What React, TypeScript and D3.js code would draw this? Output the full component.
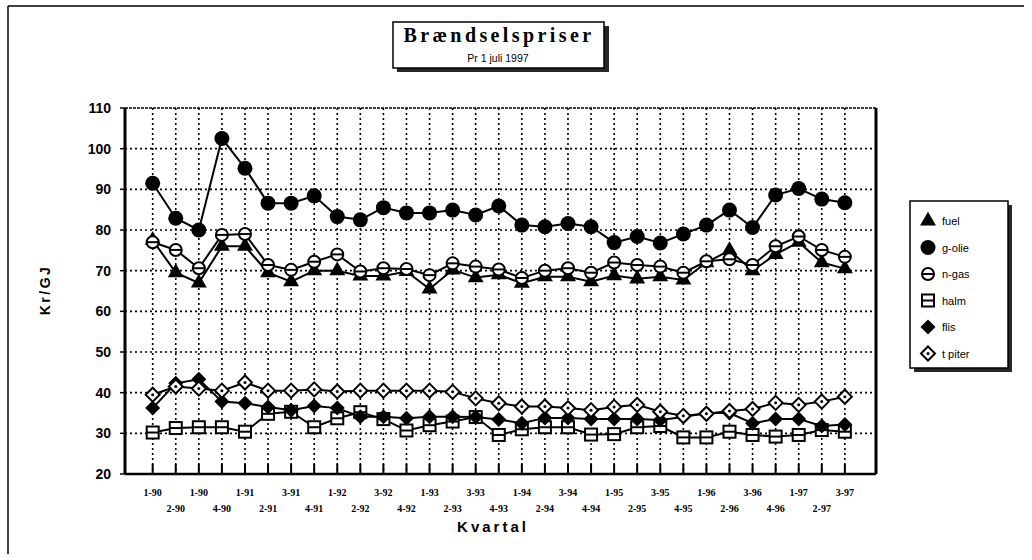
import * as d3 from "d3";

// quarter labels as printed under the axis (upper row = even index, lower row = odd)
const kvartaler = [
  "1-90", "2-90", "1-90", "4-90", "1-91", "2-91", "3-91", "4-91",
  "1-92", "2-92", "3-92", "4-92", "1-93", "2-93", "3-93", "4-93",
  "1-94", "2-94", "3-94", "4-94", "1-95", "2-95", "3-95", "4-95",
  "1-96", "2-96", "3-96", "4-96", "1-97", "2-97", "3-97",
];

const fuel = [77.5, 69.5, 67, 76, 76, 69.5, 67.3, 70, 70, 68.7, 68.7, 69.8, 65.5, 70.2, 68.3, 69,
  66.9, 68.5, 68.5, 67.3, 68.8, 68, 68.5, 67.7, 72, 75, 70, 74, 77, 72, 70.5];
const golie = [91.5, 82.9, 80, 102.5, 95.2, 86.6, 86.6, 88.4, 83.3, 82.5, 85.5, 84.2, 84.2, 84.9, 83.7, 85.9,
  81.2, 80.8, 81.6, 80.8, 76.9, 78.4, 76.8, 79, 81.2, 84.9, 80.6, 88.6, 90.2, 87.6, 86.7];
const ngas = [77, 75.1, 70.6, 78.8, 79, 71.4, 70.2, 72.2, 74, 69.8, 70.6, 70.4, 68.9, 71.8, 71, 70.3,
  68.2, 70, 70.6, 69.5, 72, 71.4, 71, 69.5, 72.3, 72.8, 71.4, 76, 78.4, 75.1, 73.4];
const halm = [30.2, 31.3, 31.5, 31.5, 30.4, 34.8, 35.3, 31.5, 33.7, 35.2, 33.5, 30.7, 32, 32.9, 34, 29.6,
  31, 31.5, 31.5, 29.7, 29.8, 31.5, 31.8, 29, 29, 30.4, 29.6, 29.2, 29.6, 30.8, 30.4];
const flis = [36.2, 42.3, 43.3, 37.8, 37.4, 36.5, 35.7, 36.7, 36.2, 34.1, 34.1, 33.7, 34.1, 34.1, 34, 33.4,
  32.5, 33.8, 33.8, 33.5, 33.5, 33.5, 33.3, 34, 35, 35, 32.5, 33.5, 33.5, 31.8, 32.2];
const tpiter = [39.5, 41.5, 41, 40.5, 42.5, 40.5, 40.5, 40.8, 40.3, 40.5, 40.5, 40.5, 40.5, 40.2, 38.6, 37.4,
  36.6, 36.6, 36.2, 35.7, 36.5, 37, 35.3, 34.3, 34.8, 35.5, 36, 37.5, 37, 37.8, 39];

const yTicks = [20, 30, 40, 50, 60, 70, 80, 90, 100, 110];

const serier = [
  { navn: "fuel", data: fuel, marker: "triangle" },
  { navn: "g-olie", data: golie, marker: "dot" },
  { navn: "n-gas", data: ngas, marker: "ocircle" },
  { navn: "halm", data: halm, marker: "osquare" },
  { navn: "flis", data: flis, marker: "diamond" },
  { navn: "t piter", data: tpiter, marker: "odiamond" },
];

const W = 1032, H = 560;
const left = 125, right = 876, top = 108, bottom = 474;

const x = d3.scaleLinear().domain([-1.2, 31.35]).range([left, right]);
const y = d3.scaleLinear().domain([20, 110]).range([bottom, top]);

function Marker({ type, cx, cy }: { type: string; cx: number; cy: number }) {
  const t = `translate(${cx},${cy})`;
  if (type === "triangle") {
    return <path transform={t} d={d3.symbol(d3.symbolTriangle, 110)()!} fill="#000" />;
  }
  if (type === "dot") {
    return <circle cx={cx} cy={cy} r={7.5} fill="#000" />;
  }
  if (type === "ocircle") {
    return (
      <g transform={t}>
        <circle r={6} fill="#fff" stroke="#000" strokeWidth={2} />
        <line x1={-6} x2={6} y1={0} y2={0} stroke="#000" strokeWidth={2} />
      </g>
    );
  }
  if (type === "osquare") {
    return (
      <g transform={t}>
        <rect x={-6} y={-6} width={12} height={12} fill="#fff" stroke="#000" strokeWidth={2} />
        <line x1={-6} x2={6} y1={0} y2={0} stroke="#000" strokeWidth={2} />
      </g>
    );
  }
  if (type === "diamond") {
    return <path transform={t} d="M0,-7.5L7.5,0L0,7.5L-7.5,0Z" fill="#000" />;
  }
  return (
    <g transform={t}>
      <path d="M0,-7L7,0L0,7L-7,0Z" fill="#fff" stroke="#000" strokeWidth={2} />
      <circle r={1.5} fill="#000" />
    </g>
  );
}

export default function App() {
  const line = d3.line<number>().x((_, i) => x(i)).y((d) => y(d));
  const idx = d3.range(kvartaler.length);
  const legendTop = 201;
  const legendStep = 26.5;

  return (
    <svg width={W} height={H} style={{ position: "absolute", left: 0, top: 0, background: "#fff" }}
      fontFamily="Liberation Sans, Arial, sans-serif">
      {/* outer frame (only left and top survived the scan) */}
      <line x1={8} x2={8} y1={6} y2={554} stroke="#000" strokeWidth={1.5} />
      <line x1={8} x2={1024} y1={6} y2={6} stroke="#000" strokeWidth={1.5} />

      {/* title box */}
      <rect x={397} y={26} width={212} height={46} fill="#000" opacity={0.85} />
      <rect x={393} y={22} width={211} height={46} fill="#fff" stroke="#000" strokeWidth={1.5} />
      <text x={499} y={42} textAnchor="middle" fontFamily="Liberation Serif, serif" fontWeight="bold"
        fontSize={20} letterSpacing={3.4}>Brændselspriser</text>
      <text x={498} y={62} textAnchor="middle" fontSize={10.5}>Pr  1  juli 1997</text>

      {/* grid */}
      {yTicks.slice(1, -1).map((v) => (
        <line key={"h" + v} x1={left} x2={right} y1={y(v)} y2={y(v)} stroke="#000"
          strokeWidth={1.6} strokeDasharray="2,3" />
      ))}
      {idx.map((i) => (
        <line key={"v" + i} x1={x(i)} x2={x(i)} y1={top} y2={bottom} stroke="#000"
          strokeWidth={1.6} strokeDasharray="2,3" />
      ))}
      {idx.map((i) => (
        <line key={"t" + i} x1={x(i)} x2={x(i)} y1={bottom} y2={bottom - 10} stroke="#000" strokeWidth={2} />
      ))}
      {yTicks.map((v) => (
        <line key={"yt" + v} x1={left - 5} x2={left} y1={y(v)} y2={y(v)} stroke="#000" strokeWidth={1.5} />
      ))}

      {/* plot frame */}
      <line x1={left} x2={right} y1={top} y2={top} stroke="#000" strokeWidth={1.5} strokeDasharray="3,1" />
      <line x1={left} x2={left} y1={top} y2={bottom} stroke="#000" strokeWidth={3} />
      <line x1={right} x2={right} y1={top} y2={bottom} stroke="#000" strokeWidth={3} />
      <line x1={left} x2={right} y1={bottom} y2={bottom} stroke="#000" strokeWidth={2.5} />

      {/* y tick labels */}
      {yTicks.map((v) => (
        <text key={"yl" + v} x={left - 14} y={y(v) + 5} textAnchor="end" fontSize={14}
          fontWeight="bold">{v}</text>
      ))}

      {/* x tick labels, two staggered rows */}
      {kvartaler.map((k, i) => (
        <text key={"xl" + i} x={x(i)} y={i % 2 === 0 ? 496 : 512} textAnchor="middle" fontSize={10}
          fontFamily="Liberation Serif, serif" fontWeight="bold">{k}</text>
      ))}

      <text x={493} y={532} textAnchor="middle" fontSize={15} fontWeight="bold" letterSpacing={3}>Kvartal</text>
      <text transform="translate(50,290) rotate(-90)" textAnchor="middle" fontSize={14} fontWeight="bold"
        letterSpacing={2.5}>Kr/GJ</text>

      {/* series */}
      {serier.map((s) => (
        <g key={s.navn}>
          <path d={line(s.data)!} fill="none" stroke="#000" strokeWidth={2} />
          {s.data.map((v, i) => (
            <Marker key={i} type={s.marker} cx={x(i)} cy={y(v)} />
          ))}
        </g>
      ))}

      {/* legend */}
      <rect x={914} y={205} width={98} height={167} fill="#000" opacity={0.85} />
      <rect x={910} y={201} width={98} height={167} fill="#fff" stroke="#000" strokeWidth={1.5} />
      {serier.map((s, i) => (
        <g key={"lg" + s.navn}>
          <Marker type={s.marker} cx={928} cy={legendTop + 20 + legendStep * i} />
          <text x={942} y={legendTop + 24 + legendStep * i} fontSize={11}>{s.navn}</text>
        </g>
      ))}
    </svg>
  );
}
